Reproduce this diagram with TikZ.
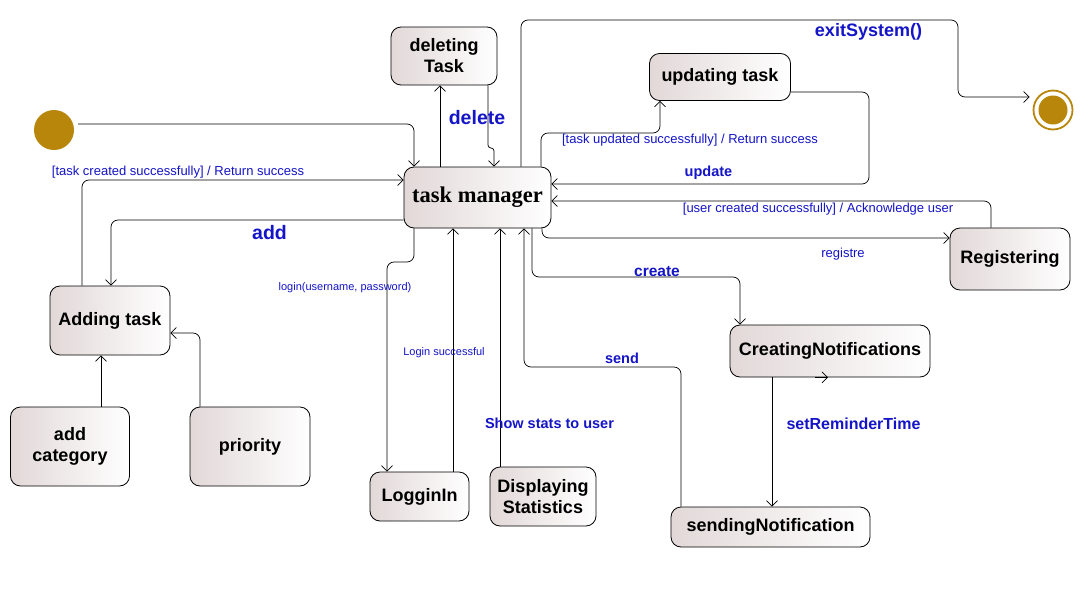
\documentclass[tikz,border=0pt]{standalone}
\usepackage{fontspec}
\setmainfont{Liberation Sans}
\newfontfamily\tmfont{Liberation Serif}
\usetikzlibrary{arrows.meta,calc}
\definecolor{boxl}{RGB}{226,216,216}
\definecolor{lblue}{RGB}{20,20,200}
\definecolor{gold}{RGB}{184,134,11}
\begin{document}
\begin{tikzpicture}[x=1pt,y=-1pt,
  state/.style={draw=black, line width=0.8pt, rounded corners=10pt, left color=boxl, right color=white, inner sep=0pt, align=center, font=\fontsize{18}{21}\selectfont\bfseries},
  tr/.style={draw=black, line width=0.7pt, rounded corners=7pt, -{Straight Barb[length=5.5pt,width=11pt]}},
  lbig/.style={text=lblue, inner sep=0pt, font=\fontsize{19.5}{21}\selectfont\bfseries},
  lmid/.style={text=lblue, inner sep=0pt, font=\fontsize{14.5}{16}\selectfont\bfseries},
  lsmall/.style={text=lblue, inner sep=0pt, font=\fontsize{13}{15}\selectfont},
  ltiny/.style={text=lblue, inner sep=0pt, font=\fontsize{11}{13}\selectfont}
]
\fill[white] (0,0) rectangle (1088,600);
\useasboundingbox (0,0) rectangle (1088,600);

% states
\node[state, minimum width=106pt, minimum height=58pt] (del) at (444,56) {deleting\\Task};
\node[state, minimum width=141pt, minimum height=47pt] (upd) at (720,77) {updating task};
\node[state, minimum width=147pt, minimum height=61pt, font=\tmfont\fontsize{22.5}{24}\selectfont\bfseries] (tm) at (477.5,197.5) {task manager};
\node[state, minimum width=120pt, minimum height=62pt] (reg) at (1010,259) {Registering};
\node[state, minimum width=120pt, minimum height=69pt] (add) at (110,320.5) {Adding task};
\node[state, minimum width=200pt, minimum height=52pt] (cn) at (830,351) {CreatingNotifications};
\node[state, minimum width=119pt, minimum height=79pt] (cat) at (70,446.5) {add\\category};
\node[state, minimum width=120pt, minimum height=79pt] (pri) at (250,446.5) {priority};
\node[state, minimum width=99pt, minimum height=49pt] (login) at (419.5,496.5) {LogginIn};
\node[state, minimum width=106pt, minimum height=59pt] (disp) at (543,496.5) {Displaying\\Statistics};
\node[state, minimum width=199pt, minimum height=40pt] (sn) at (770.5,527) {sendingNotification};

% start / end
\node[circle, fill=gold, minimum size=40pt, inner sep=0pt] (start) at (54,130) {};
\node[circle, draw=gold, line width=1.8pt, minimum size=39pt, inner sep=0pt] (end) at (1053,110) {};
\node[circle, fill=gold, minimum size=29pt, inner sep=0pt] (endin) at (1053,110) {};

% transitions
\draw[tr] ([xshift=4pt,yshift=6pt]start.east) -| (tm.north -| 414,0);
\draw[tr] (tm.north -| 440,0) -- (del.south -| 440,0);
\draw[tr, rounded corners=3pt] (del.south -| 488,0) -- (488,148) -- (494,148) -- (tm.north -| 494,0);
\draw[tr] (tm.north -| 521,0) |- (958,20) |- ([xshift=-3pt,yshift=13pt]end.west);
\draw[tr] (tm.north -| 541,0) |- (660,133) -- (upd.south -| 660,0);
\draw[tr] (upd.east |- 0,92) -| (869,184) -- (tm.east |- 0,184);
\draw[tr] (reg.north -| 991,0) |- (tm.east |- 0,201);
\draw[tr] (tm.south -| 542,0) |- (reg.west |- 0,238);
\draw[tr] (tm.south -| 532,0) |- (740,277) -- (cn.north -| 740,0);
\draw[tr] (sn.north -| 681,0) |- (524,367) -- (tm.south -| 524,0);
\draw[tr] (disp.north -| 500,0) -- (tm.south -| 500,0);
\draw[tr] (login.north -| 453,0) -- (tm.south -| 453,0);
\draw[tr] (tm.south -| 414,0) -- (414,262) -- (387,262) -- (login.north -| 387,0);
\draw[tr] (tm.west |- 0,220) -| (add.north -| 111,0);
\draw[tr] (add.north -| 82,0) |- (tm.west |- 0,180);
\draw[tr] (cat.north -| 101,0) -- (add.south -| 101,0);
\draw[tr] (pri.north -| 200,0) |- (add.east |- 0,333);
\draw[tr] (cn.south -| 772,0) -- (sn.north -| 772,0);
\draw[tr] (cn.south -| 815,0) -- (cn.south -| 828,0);

% labels
\node[lbig] (ldel) at (477,118) {delete};
\node[lbig] (ladd) at (269.5,233) {add};
\node[lbig, font=\fontsize{18}{20}\selectfont\bfseries] (lexit) at (868.5,32) {exitSystem()};
\node[lmid] (lupd) at (708.5,173) {update};
\node[lmid, font=\fontsize{15.5}{17}\selectfont\bfseries] (lcre) at (657,272) {create};
\node[lmid] (lsend) at (622,358) {send};
\node[lmid] (lstat) at (549.5,423) {Show stats to user};
\node[lmid, font=\fontsize{16}{18}\selectfont\bfseries] (lrem) at (853.5,424) {setReminderTime};
\node[lsmall] (ltc) at (178,172) {[task created successfully] / Return success};
\node[lsmall] (ltu) at (690,140) {[task updated successfully] / Return success};
\node[lsmall] (luc) at (818,209) {[user created successfully] / Acknowledge user};
\node[lsmall] (lreg) at (843,254) {registre};
\node[ltiny] (llog) at (345,288) {login(username, password)};
\node[ltiny] (llok) at (444,353) {Login successful};
\end{tikzpicture}
\end{document}
